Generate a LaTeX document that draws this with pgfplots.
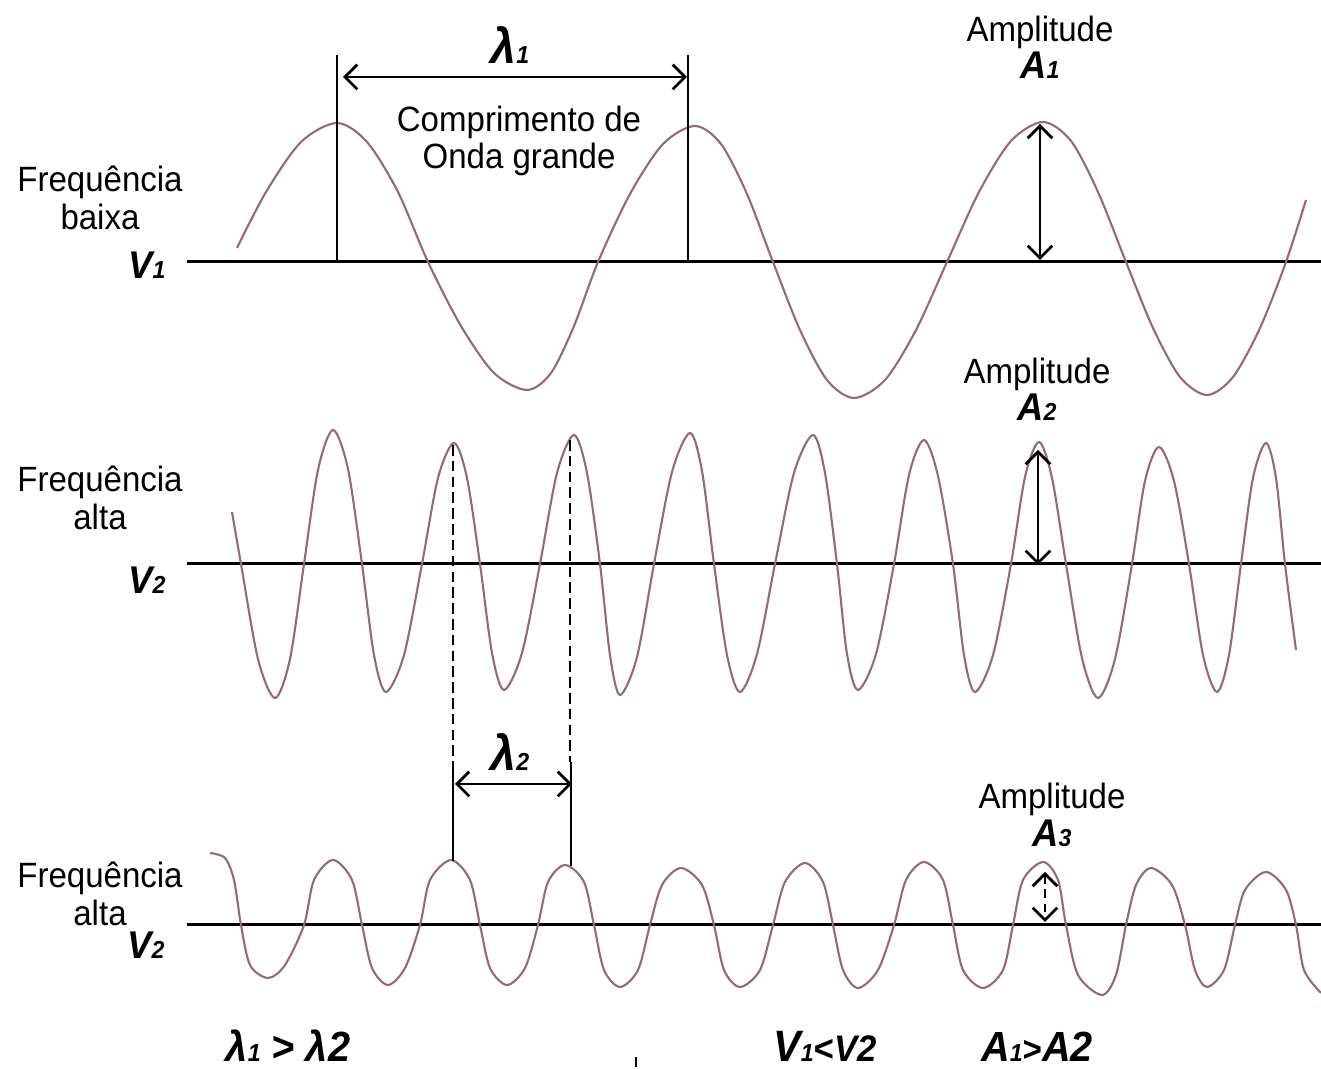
\documentclass[border=0pt]{standalone}
\usepackage{fontspec}
\setmainfont{Liberation Sans}
\newfontfamily\cond[FakeStretch=0.94]{Liberation Sans}
\usepackage{pgfplots}
\pgfplotsset{compat=1.18}
\usetikzlibrary{arrows.meta}
\definecolor{wavec}{RGB}{150,105,115}
\newcommand\lab{\cond\fontsize{10}{10.6}\selectfont}
\newcommand\bi{\bfseries\itshape}
\newcommand\sub[1]{{\fontsize{7}{7}\selectfont #1}}
\tikzset{>={Straight Barb[length=3.5pt,width=7pt,line width=0.8pt]}}
\begin{document}
\begin{tikzpicture}
\begin{axis}[scale only axis, width=13.21cm, height=10.69cm,
  xmin=0, xmax=1321, ymin=0, ymax=1069, y dir=reverse,
  axis lines=none, clip=false]
% baselines
\addplot[black, line width=0.85pt] coordinates {(187,262) (1321,262)};
\addplot[black, line width=0.85pt] coordinates {(187,564) (1321,564)};
\addplot[black, line width=0.85pt] coordinates {(187,925) (1321,925)};
% wave 1
\addplot[wavec, line width=0.6pt, smooth, tension=0.5] coordinates {
(237,248) (266,192) (301,142) (337,123) (367,142) (398,192) (428,262)
(461,326) (494,373) (527,390) (551,373) (574,326) (598,262)
(630,194) (663,144) (695,126) (721,144) (747,194) (773,262)
(800,330) (827,380) (854,398) (885,380) (916,330) (947,262)
(979,192) (1011,141) (1043,122) (1071,141) (1098,192) (1126,262)
(1153,328) (1180,377) (1207,395) (1233,377) (1260,328) (1286,262)
(1306,200)};
% wave 2
\addplot[wavec, line width=0.6pt, smooth] coordinates {
(232,512) (241,564) (258,659) (275,698) (290,659) (304,564) (318,470) (333,430)
(348,469) (362,564) (374,655) (386,692) (404,655) (422,564) (438,478) (454,443)
(467,478) (480,564) (492,653) (504,690) (522,653) (540,564) (557,473) (574,435)
(587,473) (600,564) (610,655) (620,695) (637,657) (654,564) (672,472) (690,433)
(702,471) (714,564) (727,655) (740,692) (757,654) (775,564) (794,473) (813,435)
(825,473) (837,564) (847,654) (858,690) (876,654) (894,564) (909,475) (924,440)
(938,476) (953,564) (964,655) (975,692) (993,655) (1011,564) (1025,477) (1039,442)
(1052,478) (1066,564) (1082,658) (1098,698) (1115,659) (1132,564) (1145,481) (1159,447)
(1174,481) (1189,564) (1203,655) (1217,692) (1229,655) (1241,564) (1253,478) (1266,443)
(1276,478) (1285,564) (1296,650)};
% wave 3
\addplot[wavec, line width=0.6pt, smooth] coordinates {
(210,853) (225,858) (234,880) (241,925) (250,965) (268,978) (285,965) (304,925)
(314,880) (333,860) (352,880) (362,925) (372,968) (388,985) (405,968) (420,925)
(430,880) (451,860) (470,880) (480,925) (490,968) (507,985) (525,968) (538,925)
(548,882) (565,865) (584,882) (594,925) (604,970) (620,987) (638,970) (650,925)
(662,885) (681,868) (702,885) (714,925) (724,970) (740,987) (760,970) (773,925)
(785,882) (805,863) (823,882) (833,925) (843,970) (858,988) (878,970) (894,925)
(906,880) (924,862) (943,880) (953,925) (963,970) (983,988) (1003,970) (1013,925)
(1023,880) (1043,862) (1058,880) (1066,925) (1078,975) (1102,995) (1116,975) (1126,925)
(1136,885) (1151,868) (1172,885) (1185,925) (1195,970) (1207,987) (1224,970) (1235,925)
(1245,890) (1266,872) (1286,890) (1296,925) (1304,970) (1321,993)};
% wave 1 annotations
\draw[black, line width=0.85pt] (axis cs:337,55) -- (axis cs:337,262);
\draw[black, line width=0.85pt] (axis cs:688,55) -- (axis cs:688,262);
\draw[black, line width=0.8pt, <->] (axis cs:343,77) -- (axis cs:687,77);
\draw[black, line width=0.8pt, <->] (axis cs:1040,124) -- (axis cs:1040,260);
% wave 2 annotations
\draw[black, line width=0.8pt, dash pattern=on 3pt off 1.5pt] (axis cs:453,445) -- (axis cs:453,762);
\draw[black, line width=0.8pt, dash pattern=on 3pt off 1.5pt] (axis cs:570,440) -- (axis cs:570,762);
\draw[black, line width=0.85pt] (axis cs:453,762) -- (axis cs:453,861);
\draw[black, line width=0.85pt] (axis cs:571,762) -- (axis cs:571,866);
\draw[black, line width=0.8pt, <->] (axis cs:455,784) -- (axis cs:572,784);
\draw[black, line width=0.8pt, <->] (axis cs:1038,450) -- (axis cs:1038,565);
% wave 3 annotation
\draw[black, line width=0.8pt, dash pattern=on 2.5pt off 1.5pt, <->] (axis cs:1045,872) -- (axis cs:1045,922);
\draw[black, line width=0.5pt] (axis cs:636,1057) -- (axis cs:636,1067);
% texts
\node[font=\lab] at (axis cs:510,45) {\fontsize{14}{14}\selectfont\bi λ\sub{1}};
\node[font=\lab, align=center] at (axis cs:519,141) {Comprimento de\\Onda grande};
\node[font=\lab, align=center] at (axis cs:100,198) {Frequência\\baixa};
\node[font=\lab] at (axis cs:147,265) {\fontsize{11}{11}\selectfont\bi V\sub{1}};
\node[font=\lab, align=center] at (axis cs:1040,47) {Amplitude\\{\fontsize{11}{11}\selectfont\bi A\sub{1}}};
\node[font=\lab, align=center] at (axis cs:1037,389) {Amplitude\\{\fontsize{11}{11}\selectfont\bi A\sub{2}}};
\node[font=\lab, align=center] at (axis cs:100,498) {Frequência\\alta};
\node[font=\lab] at (axis cs:147,580) {\fontsize{11}{11}\selectfont\bi V\sub{2}};
\node[font=\lab] at (axis cs:510,752) {\fontsize{14}{14}\selectfont\bi λ\sub{2}};
\node[font=\lab, align=center] at (axis cs:1052,815) {Amplitude\\{\fontsize{11}{11}\selectfont\bi A\sub{3}}};
\node[font=\lab, align=center] at (axis cs:100,894) {Frequência\\alta};
\node[font=\lab] at (axis cs:146,945) {\fontsize{11}{11}\selectfont\bi V\sub{2}};
\node[font=\lab, anchor=base] at (axis cs:288,1062) {\fontsize{12}{12}\selectfont\bi λ\sub{1} > λ2};
\node[font=\lab, anchor=base] at (axis cs:825,1062) {\fontsize{12.5}{12}\selectfont\bi V\sub{1}{\fontsize{10.5}{10}\selectfont<V2}};
\node[font=\lab, anchor=base] at (axis cs:1037,1062) {\fontsize{12}{12}\selectfont\bi A\sub{1}{\fontsize{10}{10}\selectfont>}A2};
\end{axis}
\pgfresetboundingbox
\path (current axis.south west) rectangle (current axis.north east);
\end{tikzpicture}
\end{document}
